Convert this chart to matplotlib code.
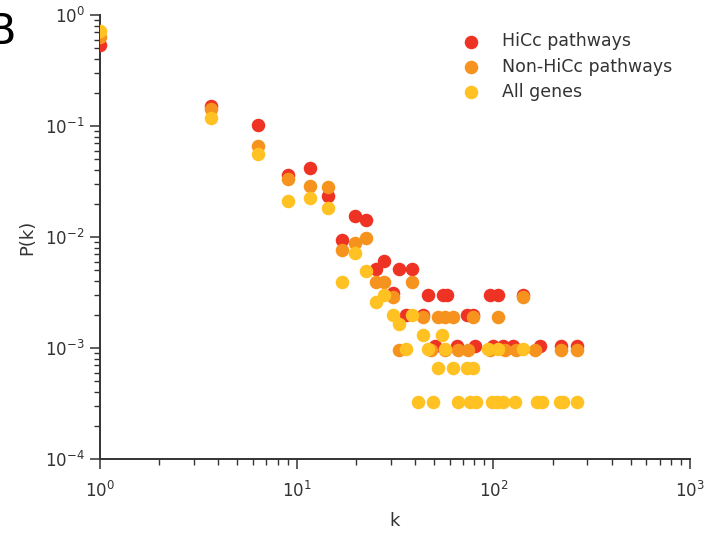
import matplotlib
matplotlib.use("Agg")
import matplotlib.pyplot as plt

# ---- data ----
hicc_k = [1, 3.66, 6.38, 9.07, 11.7, 14.5, 17.1, 19.8, 22.5, 25.3, 27.9, 30.8,
          33.2, 35.9, 38.5, 44.0, 46.7, 50.4, 55.3, 57.9, 65.1, 73.2, 79.0,
          80.6, 96.1, 100, 105.9, 112, 126, 141, 173, 222, 265]
hicc_p = [0.54, 0.15, 0.102, 0.036, 0.042, 0.0234, 0.0093, 0.0153, 0.0142,
          0.0051, 0.0061, 0.0031, 0.0051, 0.002, 0.0051, 0.002, 0.003, 0.00105,
          0.003, 0.003, 0.00105, 0.002, 0.002, 0.00105, 0.003, 0.00105, 0.003,
          0.00105, 0.00105, 0.003, 0.00105, 0.00105, 0.00105]

non_k = [1, 3.66, 6.38, 9.07, 11.7, 14.5, 17.1, 19.8, 22.5, 25.3, 27.9, 30.8,
         33.2, 38.5, 44.0, 48.0, 52.5, 56.7, 56.7, 62.5, 66.3, 74.5, 79.0,
         96.1, 105.9, 114, 130, 141, 162, 222, 265]
non_p = [0.634, 0.142, 0.0665, 0.0334, 0.0289, 0.0283, 0.0076, 0.0088, 0.0097,
         0.0039, 0.0039, 0.0029, 0.00095, 0.0039, 0.0019, 0.00095, 0.0019,
         0.0019, 0.00095, 0.0019, 0.00095, 0.00095, 0.0019, 0.00095, 0.0019,
         0.00095, 0.00095, 0.0029, 0.00095, 0.00095, 0.00095]

all_k = [1, 3.66, 6.38, 9.07, 11.7, 14.5, 17.1, 19.8, 22.5, 25.3, 27.9, 30.8,
         33.2, 35.9, 38.5, 41.5, 44.0, 46.7, 49.1, 52.5, 54.6, 57.0, 62.5,
         66.3, 73.2, 76.0, 79.0, 81.6, 94, 98, 104.7, 106, 112, 129, 141, 166,
         176, 218, 227, 265]
all_p = [0.718, 0.117, 0.0557, 0.0212, 0.0223, 0.0181, 0.0039, 0.0072, 0.0049,
         0.0026, 0.0030, 0.00197, 0.00164, 0.00098, 0.00197, 0.000328, 0.00131,
         0.00098, 0.000328, 0.000656, 0.00131, 0.00098, 0.000656, 0.000328,
         0.000656, 0.000328, 0.000656, 0.000328, 0.00098, 0.000328, 0.000328,
         0.00098, 0.000328, 0.000328, 0.00098, 0.000328, 0.000328, 0.000328,
         0.000328, 0.000328]

series_labels = ["HiCc pathways", "Non-HiCc pathways", "All genes"]
x_label = "k"
y_label = "P(k)"
panel_label = "B"

# ---- styling ----
c_red = "#EE3224"
c_orange = "#F6921E"
c_yellow = "#FFC222"
dark = "#333333"

fig = plt.figure(figsize=(7.09, 5.33), dpi=100)
ax = fig.add_axes([100 / 709, 74 / 533, 590 / 709, 444 / 533])

ms = 95
ax.scatter(hicc_k, hicc_p, s=ms, color=c_red, linewidths=0, label=series_labels[0], zorder=3)
ax.scatter(non_k, non_p, s=ms, color=c_orange, linewidths=0, label=series_labels[1], zorder=4)
ax.scatter(all_k, all_p, s=ms, color=c_yellow, linewidths=0, label=series_labels[2], zorder=5)

ax.set_xscale("log")
ax.set_yscale("log")
ax.set_xlim(1, 1000)
ax.set_ylim(1e-4, 1)

for side in ("top", "right"):
    ax.spines[side].set_visible(False)
for side in ("left", "bottom"):
    ax.spines[side].set_color(dark)
    ax.spines[side].set_linewidth(1.4)

ax.tick_params(which="major", length=7.5, width=1.1, color=dark, labelcolor=dark,
               labelsize=12, direction="out")
ax.tick_params(which="minor", length=4, width=1.0, color=dark, direction="out")
ax.tick_params(axis="x", which="major", pad=8)

ax.set_xlabel(x_label, fontsize=13, color=dark, labelpad=8)
ax.set_ylabel(y_label, fontsize=13, color=dark, labelpad=6)

leg = ax.legend(loc="upper right", bbox_to_anchor=(1.0, 1.0), frameon=False,
                fontsize=12.5, handletextpad=0.8, labelspacing=0.42,
                markerscale=1.0, borderaxespad=0.6)
for t in leg.get_texts():
    t.set_color(dark)

fig.text(-0.018, 0.918, panel_label, fontsize=31, color="black", ha="left", va="baseline")

fig.savefig("out.png", dpi=100)
